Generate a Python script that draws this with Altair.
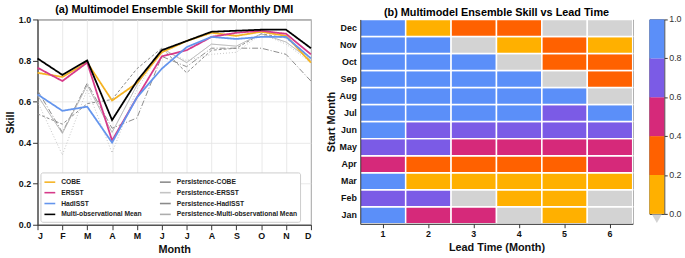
import altair as alt
import pandas as pd

FONT = "Liberation Sans"

# ---------- Panel (a) data ----------
month_letters = ["J", "F", "M", "A", "M", "J", "J", "A", "S", "O", "N", "D"]
month_idx = list(range(12))

cobe = [0.74, 0.72, 0.79, 0.605, 0.69, 0.84, 0.895, 0.935, 0.92, 0.94, 0.92, 0.79]
ersst = [0.765, 0.70, 0.79, 0.41, 0.62, 0.82, 0.85, 0.915, 0.935, 0.945, 0.93, 0.83]
hadisst = [0.635, 0.555, 0.575, 0.40, 0.62, 0.76, 0.865, 0.915, 0.905, 0.915, 0.915, 0.81]
mean_obs = [0.81, 0.73, 0.80, 0.51, 0.70, 0.85, 0.895, 0.94, 0.945, 0.95, 0.95, 0.86]

p_cobe = [0.655, 0.45, 0.69, 0.47, 0.52, 0.82, 0.77, 0.86, 0.86, 0.86, 0.83, 0.70]
p_ersst = [0.60, 0.34, 0.66, 0.35, 0.66, 0.85, 0.80, 0.83, 0.84, 0.93, 0.88, 0.79]
p_hadisst = [0.54, 0.49, 0.59, 0.61, 0.76, 0.86, 0.74, 0.85, 0.86, 0.93, 0.91, 0.81]
p_mean = [0.63, 0.445, 0.68, 0.45, 0.68, 0.86, 0.79, 0.88, 0.87, 0.93, 0.89, 0.80]

main_series = {
    "COBE": cobe,
    "ERSST": ersst,
    "HadISST": hadisst,
    "Multi-observational Mean": mean_obs,
}
pers_series = {
    "Persistence-COBE": p_cobe,
    "Persistence-ERSST": p_ersst,
    "Persistence-HadISST": p_hadisst,
    "Persistence-Multi-observational Mean": p_mean,
}

# legend fills column by column
legend_order = [
    "COBE", "ERSST", "HadISST", "Multi-observational Mean",
    "Persistence-COBE", "Persistence-ERSST", "Persistence-HadISST",
    "Persistence-Multi-observational Mean",
]
legend_colors = [
    "#F5B323", "#D63A8A", "#6495ED", "#000000",
    "#8c8c8c", "#c4c4c4", "#8a8a8a", "#adadad",
]
legend_dash = [
    [1, 0], [1, 0], [1, 0], [1, 0],
    [6, 2, 1, 2], [1, 2], [3, 2], [1, 0],
]

# ---------- Panel (b) data ----------
start_months = ["Jan", "Feb", "Mar", "Apr", "May", "Jun",
                "Jul", "Aug", "Sep", "Oct", "Nov", "Dec"]
leads = [1, 2, 3, 4, 5, 6]
skill_jan = [0.81, 0.52, 0.45, -0.05, 0.12, -0.10]
skill_feb = [0.73, 0.66, -0.05, 0.15, 0.12, -0.08]
skill_mar = [0.805, 0.15, 0.12, 0.10, 0.12, 0.15]
skill_apr = [0.51, 0.32, 0.28, 0.30, 0.25, 0.45]
skill_may = [0.70, 0.65, 0.50, 0.45, 0.45, 0.42]
skill_jun = [0.85, 0.75, 0.72, 0.70, 0.68, 0.66]
skill_jul = [0.90, 0.86, 0.85, 0.83, 0.78, 0.81]
skill_aug = [0.94, 0.92, 0.90, 0.87, 0.83, -0.02]
skill_sep = [0.945, 0.93, 0.90, 0.84, -0.05, 0.30]
skill_oct = [0.95, 0.92, 0.86, -0.05, 0.30, 0.28]
skill_nov = [0.95, 0.88, -0.03, 0.15, 0.32, 0.12]
skill_dec = [0.86, 0.15, 0.30, 0.27, -0.05, -0.10]
skill_rows = [skill_jan, skill_feb, skill_mar, skill_apr, skill_may, skill_jun,
              skill_jul, skill_aug, skill_sep, skill_oct, skill_nov, skill_dec]

bin_edges = [0.0, 0.2, 0.4, 0.6, 0.8]
bin_colors = ["#D3D3D3", "#FFB000", "#FF6100", "#D6297A", "#7B5BE6", "#5B8FF9"]

# ---------- Colorbar data ----------
cb_lo = [0.0, 0.2, 0.4, 0.6, 0.8]
cb_hi = [0.2, 0.4, 0.6, 0.8, 1.0]
cb_mid = [0.1, 0.3, 0.5, 0.7, 0.9]
cb_ticks = [0.0, 0.2, 0.4, 0.6, 0.8, 1.0]
cb_under = [-0.025]


def to_long(series):
    rows = []
    for name, vals in series.items():
        for m, v in zip(month_idx, vals):
            rows.append({"month": m, "skill": v, "series": name})
    return pd.DataFrame(rows)


df_main = to_long(main_series)
df_pers = to_long(pers_series)

rows = []
for m, vals in zip(start_months, skill_rows):
    for l, v in zip(leads, vals):
        rows.append({"start": m, "lead": l, "skill": v})
df_heat = pd.DataFrame(rows)
df_cb = pd.DataFrame({"lo": cb_lo, "hi": cb_hi, "mid": cb_mid})
df_tri = pd.DataFrame({"v": cb_under})
df_ticks = pd.DataFrame({"t": cb_ticks})

thr_scale = alt.Scale(type="threshold", domain=bin_edges, range=bin_colors)

label_expr = "[" + ",".join(f"'{l}'" for l in month_letters) + "][datum.value]"

# signal expression giving each legend symbol its dash pattern / width
dash_expr = " : ".join(
    f"datum.value === '{n}' ? [{','.join(str(d) for d in dd)}]"
    for n, dd in zip(legend_order, legend_dash)
) + " : [1,0]"
width_expr = "indexof(datum.value, 'Persistence') === 0 ? 1.1 : 1.8"

legend_common = dict(
    title=None, orient="bottom-left", columns=2, symbolType="stroke",
    symbolStrokeWidth=1.6, symbolSize=120, labelFontSize=6.8,
    labelFontWeight="bold", labelLimit=300, columnPadding=14, labelOffset=5,
    rowPadding=0, padding=3, strokeColor="#cccccc", fillColor="white",
    offset=3, labelColor="#222222", cornerRadius=2,
)


def build(use_encode):
    if use_encode:
        leg = alt.Legend(
            **legend_common,
            encode={"symbols": {"update": {
                "strokeDash": {"signal": dash_expr},
                "strokeWidth": {"signal": width_expr},
            }}},
        )
    else:
        leg = alt.Legend(**legend_common)

    x_a = alt.X(
        "month:Q",
        scale=alt.Scale(domain=[0, 11], nice=False),
        axis=alt.Axis(values=month_idx, labelExpr=label_expr, title="Month",
                      grid=True),
    )
    y_a = alt.Y(
        "skill:Q",
        scale=alt.Scale(domain=[0, 1], nice=False),
        axis=alt.Axis(values=cb_ticks, format=".1f", title="Skill"),
    )
    color_a = alt.Color(
        "series:N",
        scale=alt.Scale(domain=legend_order, range=legend_colors),
        legend=leg,
    )
    dash_a = alt.StrokeDash(
        "series:N",
        scale=alt.Scale(domain=legend_order, range=legend_dash),
        legend=None,
    )

    pers_layer = alt.Chart(df_pers).mark_line(strokeWidth=1).encode(
        x=x_a, y=y_a, color=color_a, strokeDash=dash_a, detail="series:N"
    )
    main_layer = alt.Chart(df_main).mark_line(strokeWidth=1.8).encode(
        x=x_a, y=y_a, color=color_a, strokeDash=dash_a, detail="series:N"
    )

    panel_a = alt.layer(pers_layer, main_layer).properties(
        width=277, height=208,
        title=alt.TitleParams("(a) Multimodel Ensemble Skill for Monthly DMI",
                              fontSize=11, fontWeight="bold", font=FONT, offset=1),
    )

    heat = alt.Chart(df_heat).mark_rect(stroke="white", strokeWidth=1.5).encode(
        x=alt.X("lead:O", axis=alt.Axis(title="Lead Time (Month)", labelAngle=0,
                                         tickSize=4)),
        y=alt.Y("start:O", sort=list(reversed(start_months)),
                axis=alt.Axis(title="Start Month", tickSize=0, labelPadding=4)),
        color=alt.Color("skill:Q", scale=thr_scale, legend=None),
    ).properties(
        width=276, height=207,
        title=alt.TitleParams("(b) Multimodel Ensemble Skill vs Lead Time",
                              fontSize=11, fontWeight="bold", font=FONT, offset=1),
    )

    cb_axis = alt.Axis(orient="right", values=cb_ticks, title=None,
                       domain=False, grid=False, labels=False,
                       tickColor="#333333", tickSize=3)
    cb_scale = alt.Scale(domain=[0, 1], nice=False, zero=False)

    cb_rects = alt.Chart(df_cb).mark_rect().encode(
        x=alt.value(0), x2=alt.value(15),
        y=alt.Y("lo:Q", scale=cb_scale, axis=cb_axis),
        y2="hi:Q",
        color=alt.Color("mid:Q", scale=thr_scale, legend=None),
    )
    cb_tri = alt.Chart(df_tri).mark_point(
        shape="triangle-down", filled=True, color="#D3D3D3", size=100, opacity=1
    ).encode(x=alt.value(7.5), y=alt.Y("v:Q", scale=cb_scale, axis=cb_axis))

    cb_text = alt.Chart(df_ticks).mark_text(
        align="left", baseline="middle", fontSize=9, font=FONT,
        color="#333333", dx=0,
    ).encode(
        x=alt.value(20),
        y=alt.Y("t:Q", scale=cb_scale, axis=cb_axis),
        text=alt.Text("t:Q", format=".1f"),
    )

    colorbar = alt.layer(cb_rects, cb_tri, cb_text).properties(
        width=15, height=197,
        title=alt.TitleParams(" ", fontSize=11, fontWeight="bold", font=FONT,
                              offset=1),
    )

    right = alt.hconcat(heat, colorbar, spacing=14)

    return alt.hconcat(panel_a, right, spacing=8).properties(
        padding={"left": 3, "right": 2, "top": 1, "bottom": 2}
    ).configure(
        font=FONT,
    ).configure_axis(
        labelFont=FONT, titleFont=FONT, labelFontSize=9, labelFontWeight="bold",
        titleFontSize=11, titleFontWeight="bold", labelColor="#111111",
        titleColor="#111111", gridColor="#e3e3e3", gridWidth=0.8,
        domainColor="#333333", tickColor="#333333", titlePadding=3,
    ).configure_view(
        stroke="#333333", strokeWidth=1,
    ).configure_legend(
        labelFont=FONT,
    )


try:
    chart = build(True)
    chart.to_dict()
except Exception:
    chart = build(False)

chart.save("out.html", embed_options={"renderer": "svg", "actions": False})
